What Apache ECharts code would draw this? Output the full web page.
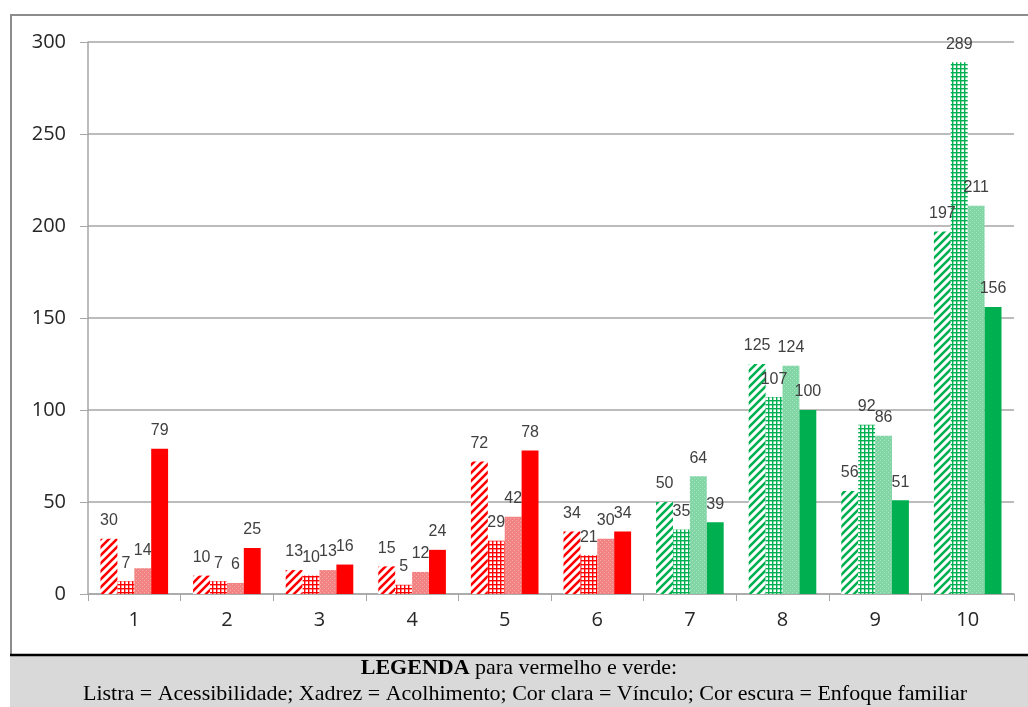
<!DOCTYPE html>
<html>
<head>
<meta charset="utf-8">
<script src="https://cdn.jsdelivr.net/npm/echarts@6/dist/echarts.min.js"></script>
<style>
  html, body { margin: 0; padding: 0; background: #fff; }
  #chart { width: 1028px; height: 707px; }
</style>
</head>
<body>
<div id="chart"></div>
<script>
// Category labels (1..10) and the four indicators per category
const categories = ['1', '2', '3', '4', '5', '6', '7', '8', '9', '10'];
const acessibilidade = [30, 10, 13, 15, 72, 34, 50, 125, 56, 197];
const acolhimento    = [7, 7, 10, 5, 29, 21, 35, 107, 92, 289];
const vinculo        = [14, 6, 13, 12, 42, 30, 64, 124, 86, 211];
const enfoqueFamiliar = [79, 25, 16, 24, 78, 34, 39, 100, 51, 156];
const yTicks = [0, 50, 100, 150, 200, 250, 300];
// categories from this index on are drawn in green, earlier ones in red
const firstGreen = 6;

const RED = '#FF0000', RED_LIGHT = '#F38383';
const GREEN = '#00B050', GREEN_LIGHT = '#82D6A6';

function makeCanvas(w, h) {
  const c = document.createElement('canvas');
  c.width = w; c.height = h;
  return c;
}
// diagonal "/" stripes on white
function stripes(color) {
  const s = 8;
  const c = makeCanvas(s, s), g = c.getContext('2d');
  g.fillStyle = '#fff'; g.fillRect(0, 0, s, s);
  g.strokeStyle = color; g.lineWidth = 2.6;
  g.beginPath();
  g.moveTo(-1, s + 1); g.lineTo(s + 1, -1);
  g.moveTo(-1, 1); g.lineTo(1, -1);
  g.moveTo(s - 1, s + 1); g.lineTo(s + 1, s - 1);
  g.stroke();
  return { image: c, repeat: 'repeat' };
}
// small checkered grid on white
function checks(color) {
  const s = 4;
  const c = makeCanvas(s, s), g = c.getContext('2d');
  g.fillStyle = '#fff'; g.fillRect(0, 0, s, s);
  g.fillStyle = color;
  g.fillRect(0, 0, s, 1.4);
  g.fillRect(0, 0, 1.4, s);
  return { image: c, repeat: 'repeat' };
}
// light tint with a fine dotted texture
function dotted(color) {
  const s = 4;
  const c = makeCanvas(s, s), g = c.getContext('2d');
  g.fillStyle = color; g.fillRect(0, 0, s, s);
  g.fillStyle = 'rgba(255,255,255,0.35)';
  g.fillRect(0, 0, 1, 1);
  g.fillRect(2, 2, 1, 1);
  return { image: c, repeat: 'repeat' };
}

const fills = {
  red:   [stripes(RED), checks(RED), dotted(RED_LIGHT), RED],
  green: [stripes(GREEN), checks(GREEN), dotted(GREEN_LIGHT), GREEN]
};

function buildSeries(values, k) {
  return {
    type: 'bar',
    barGap: '0%',
    barCategoryGap: '27%',
    data: values.map((v, i) => ({
      value: v,
      itemStyle: { color: fills[i >= firstGreen ? 'green' : 'red'][k] }
    })),
    label: {
      show: true,
      position: 'top',
      distance: 10,
      fontFamily: 'Liberation Sans Narrow, Arial Narrow, Liberation Sans, sans-serif',
      fontSize: 16,
      color: '#404040'
    }
  };
}

const chart = echarts.init(document.getElementById('chart'), null, { renderer: 'canvas' });
chart.setOption({
  animation: false,
  backgroundColor: '#fff',
  grid: { left: 88, right: 14, top: 42, bottom: 113, containLabel: false },
  xAxis: {
    type: 'category',
    data: categories,
    axisLine: { lineStyle: { color: '#A6A6A6', width: 1.5 } },
    axisTick: { show: true, length: 7, lineStyle: { color: '#A6A6A6' } },
    axisLabel: { fontFamily: 'Open Sans, sans-serif', fontSize: 20, color: '#262626', margin: 16 }
  },
  yAxis: {
    type: 'value',
    min: yTicks[0],
    max: yTicks[yTicks.length - 1],
    interval: yTicks[1] - yTicks[0],
    axisLine: { show: true, lineStyle: { color: '#A6A6A6', width: 1.5 } },
    axisTick: { show: true, length: 8, lineStyle: { color: '#A6A6A6' } },
    splitLine: { lineStyle: { color: '#A6A6A6', width: 1.5 } },
    axisLabel: { fontFamily: 'Open Sans, sans-serif', fontSize: 20, color: '#262626', margin: 22 }
  },
  series: [
    buildSeries(acessibilidade, 0),
    buildSeries(acolhimento, 1),
    buildSeries(vinculo, 2),
    buildSeries(enfoqueFamiliar, 3)
  ],
  graphic: [
    // chart frame
    { type: 'rect', shape: { x: 11, y: 15, width: 1030, height: 660 },
      style: { fill: 'none', stroke: '#8C8C8C', lineWidth: 2 }, z: -1 },
    // legend panel
    { type: 'rect', shape: { x: 10, y: 655, width: 1030, height: 60 },
      style: { fill: '#D9D9D9', stroke: null }, z: 10 },
    { type: 'line', shape: { x1: 10, y1: 655, x2: 1028, y2: 655 },
      style: { stroke: '#000', lineWidth: 2.5 }, z: 11 },
    { type: 'text', x: 519, y: 668, z: 12,
      style: { rich: {
          b: { fontFamily: 'Liberation Serif, serif', fontWeight: 'bold', fontSize: 22, fill: '#000' },
          n: { fontFamily: 'Liberation Serif, serif', fontSize: 22, fill: '#000' } },
        text: '{b|LEGENDA}{n| para vermelho e verde:}',
        align: 'center', verticalAlign: 'middle' } },
    { type: 'text', x: 525, y: 694, z: 12,
      style: { text: 'Listra = Acessibilidade; Xadrez = Acolhimento; Cor clara = Vínculo; Cor escura = Enfoque familiar',
        fontFamily: 'Liberation Serif, serif', fontSize: 22, fill: '#000',
        align: 'center', verticalAlign: 'middle' } }
  ]
});
</script>
</body>
</html>
